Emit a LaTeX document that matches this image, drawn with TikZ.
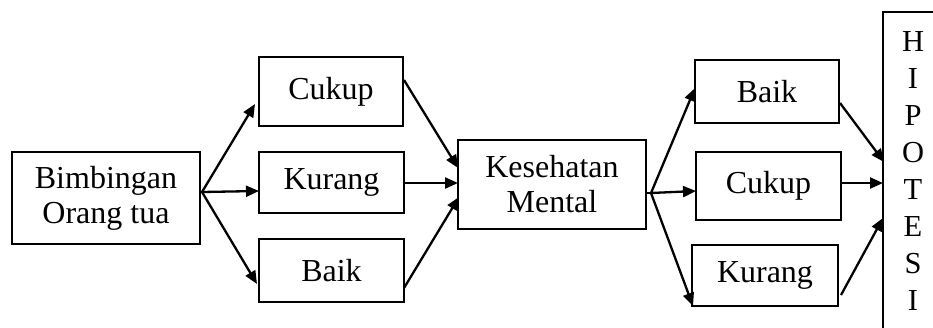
\documentclass[tikz,border=0pt]{standalone}
\usepackage{fontspec}
\setmainfont{Liberation Serif}
\usetikzlibrary{arrows.meta}
\begin{document}
\begin{tikzpicture}[x=1pt,y=-1pt,
  box/.style={draw, line width=2pt, inner sep=0pt, align=center,
    font=\fontsize{32}{35}\selectfont},
  letter/.style={inner sep=0pt, anchor=base, font=\fontsize{30.5}{35}\selectfont},
  arr/.style={line width=2.3pt, -{Triangle[length=13pt,width=11pt]}}]
\useasboundingbox (0,0) rectangle (933,327);
\clip (0,0) rectangle (933,327);
\node[box, minimum width=188pt, minimum height=92pt] (bim) at (106,198) {Bimbingan\\Orang tua};
\node[box, minimum width=144pt, minimum height=69pt] (c1) at (331,91.5) {Cukup};
\node[box, minimum width=145pt, minimum height=61pt] (k1) at (331.5,182.5) {Kurang};
\node[box, minimum width=145pt, minimum height=63pt] (b1) at (331.5,270.5) {Baik};
\node[box, minimum width=188pt, minimum height=89pt] (kes) at (552,184.5) {Kesehatan\\Mental};
\node[box, minimum width=144pt, minimum height=63pt] (b2) at (767,91.5) {Baik};
\node[box, minimum width=145pt, minimum height=68pt] (c2) at (768.5,186) {Cukup};
\node[box, minimum width=146pt, minimum height=61pt] (k2) at (765,275.5) {Kurang};
\node[draw, line width=2pt, minimum width=62pt, minimum height=330pt, inner sep=0pt] (hip) at (914,177) {};
\foreach \l [count=\i] in {H,I,P,O,T,E,S,I}
  \node[letter] (h\i) at (913,{51+37*(\i-1)}) {\l};
\coordinate (f1) at (202,192);
\coordinate (c1in) at (255,104);
\coordinate (k1in) at (259,191);
\coordinate (b1in) at (257,284);
\coordinate (c1out) at (404,80);
\coordinate (k1out) at (404,183);
\coordinate (b1out) at (404,288);
\coordinate (kesA) at (458,168);
\coordinate (kesB) at (458,183);
\coordinate (kesC) at (459,197);
\coordinate (f2) at (651,193);
\coordinate (b2in) at (695,88);
\coordinate (c2in) at (696,191);
\coordinate (k2in) at (693,306);
\coordinate (b2out) at (840,103);
\coordinate (c2out) at (841,183);
\coordinate (k2out) at (841,295);
\coordinate (hipA) at (884,162);
\coordinate (hipB) at (883,183);
\coordinate (hipC) at (883,218);
\draw[line width=2.3pt] (bim.east |- f1) -- (f1);
\draw[arr] (f1) -- (c1in);
\draw[arr] (f1) -- (k1in);
\draw[arr] (f1) -- (b1in);
\draw[arr] (c1out) -- (kesA);
\draw[arr] (k1out) -- (kesB);
\draw[arr] (b1out) -- (kesC);
\draw[line width=2.3pt] (kes.east |- f2) -- (f2);
\draw[arr] (f2) -- (b2in);
\draw[arr] (f2) -- (c2in);
\draw[arr] (f2) -- (k2in);
\draw[arr] (b2out) -- (hipA);
\draw[arr] (c2out) -- (hipB);
\draw[arr] (k2out) -- (hipC);
\end{tikzpicture}
\end{document}
